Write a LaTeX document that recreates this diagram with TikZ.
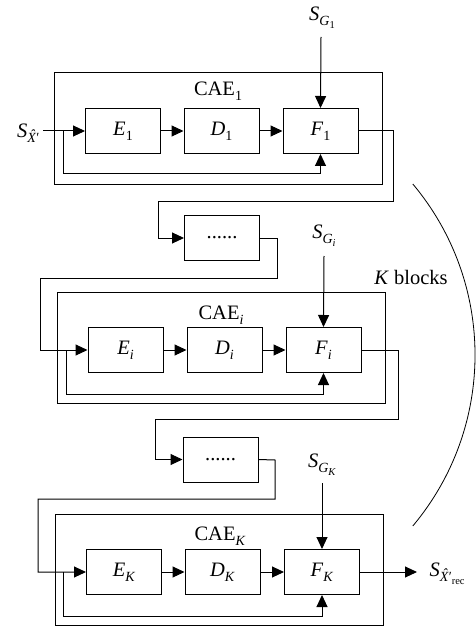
\documentclass[tikz,border=0pt]{standalone}
\usepackage{fontspec}
\setmainfont{Liberation Serif}
\usetikzlibrary{arrows.meta,calc}
\newcommand{\sbs}[1]{\raisebox{-0.24em}{\fontsize{14}{14}\selectfont #1}}
\newcommand{\ssbs}[1]{\raisebox{-0.22em}{\fontsize{10.5}{10.5}\selectfont #1}}
\newcommand{\hatX}{\textit{\accent"02C6 X}}
\begin{document}
\begin{tikzpicture}[x=1pt,y=-1pt,
  line width=1pt,
  every node/.style={font=\fontsize{20.5}{22}\selectfont},
  blk/.style={draw,minimum width=75pt,minimum height=45pt,inner sep=0pt},
  outerbox/.style={draw,inner sep=0pt,minimum width=328pt,minimum height=111pt},
  lbl/.style={inner sep=0pt},
  arr/.style={-{Triangle[length=12pt,width=11pt]}}]
\useasboundingbox (0,0) rectangle (475,631);

% ---------- block 1 ----------
\node[outerbox] (C1) at (218,128.5) {};
\node[lbl] (C1l) at (218,91) {CAE\sbs{1}};
\node[blk] (E1) at (123,131) {\textit{E}\sbs{1}};
\node[blk] (D1) at (221.5,131) {\textit{D}\sbs{1}};
\node[blk] (F1) at (320.5,131) {\textit{F}\sbs{1}};
\node[lbl,anchor=east] (X) at (40,133) {\textit{S}\sbs{\hatX′}};
\coordinate (in1) at (43,131);
\coordinate (b1) at (63,131);
\node[lbl] (G1) at (322,18) {\textit{S}\sbs{\textit{G}\ssbs{1}}};
\coordinate (g1s) at (321,37);
\draw[arr] (in1) -- (E1.west);
\draw[arr] (E1) -- (D1);
\draw[arr] (D1) -- (F1);
\draw[arr] (b1) -- ++(0,43) -| (F1.south);
\draw[arr] (g1s) -- (F1.north);

% ---------- dots 1 ----------
\node[blk] (P1) at (222,238) {......};
\coordinate (o1a) at (393,131);
\coordinate (o1b) at (158,201);
\draw[arr] (F1.east) -- (o1a) |- (o1b) |- (P1.west);

% ---------- block i ----------
\node[outerbox] (Ci) at (221,347.5) {};
\node[lbl] (Cil) at (221,315) {CAE\sbs{\textit{i}}};
\node[blk] (Ei) at (125.5,350) {\textit{E}\sbs{\textit{i}}};
\node[blk] (Di) at (224.5,350) {\textit{D}\sbs{\textit{i}}};
\node[blk] (Fi) at (323.5,350) {\textit{F}\sbs{\textit{i}}};
\coordinate (p1a) at (277,238);
\coordinate (p1b) at (40,278);
\coordinate (bi) at (66,350);
\draw[arr] (P1.east) -- (p1a) |- (p1b) |- (Ei.west);
\draw[arr] (Ei) -- (Di);
\draw[arr] (Di) -- (Fi);
\draw[arr] (bi) -- ++(0,44) -| (Fi.south);
\node[lbl] (Gi) at (324,236) {\textit{S}\sbs{\textit{G}\ssbs{\textit{i}}}};
\coordinate (gis) at (324,256);
\draw[arr] (gis) -- (Fi.north);

% ---------- dots 2 ----------
\node[blk] (P2) at (220.5,459.5) {......};
\coordinate (oia) at (398,350);
\coordinate (oib) at (155,419);
\draw[arr] (Fi.east) -- (oia) |- (oib) |- (P2.west);

% ---------- block K ----------
\node[outerbox] (CK) at (219.5,569.5) {};
\node[lbl] (CKl) at (220,536) {CAE\sbs{\textit{K}}};
\node[blk] (EK) at (124,572) {\textit{E}\sbs{\textit{K}}};
\node[blk] (DK) at (222.5,572) {\textit{D}\sbs{\textit{K}}};
\node[blk] (FK) at (322,572) {\textit{F}\sbs{\textit{K}}};
\coordinate (p2a) at (275,460);
\coordinate (p2b) at (38,499);
\coordinate (bK) at (63,572);
\draw[arr] (P2.east) -- (p2a) |- (p2b) |- (EK.west);
\draw[arr] (EK) -- (DK);
\draw[arr] (DK) -- (FK);
\draw[arr] (bK) -- ++(0,44) -| (FK.south);
\node[lbl] (GK) at (322,465) {\textit{S}\sbs{\textit{G}\ssbs{\textit{K}}}};
\coordinate (gKs) at (322,483);
\draw[arr] (gKs) -- (FK.north);
\coordinate (outK) at (417,572);
\draw[arr] (FK.east) -- (outK);
\node[lbl,anchor=west] (Xr) at (429,574) {\textit{S}\sbs{\hatX′\ssbs{rec}}};

% ---------- arc ----------
\node[lbl] (Kb) at (411,277) {\textit{K} blocks};
\coordinate (arcS) at (412.8,184);
\draw[line width=0.8pt] (arcS) arc[start angle=-40,end angle=40,radius=266];
\end{tikzpicture}
\end{document}
